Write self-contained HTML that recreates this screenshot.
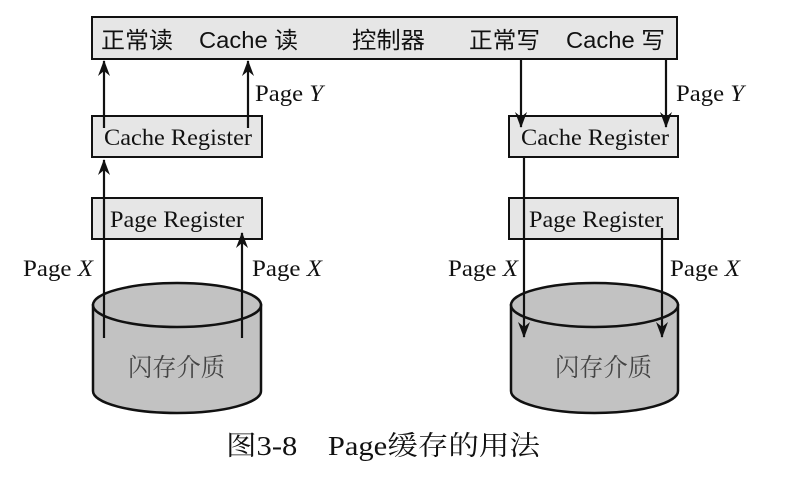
<!DOCTYPE html>
<html><head><meta charset="utf-8"><style>
html,body{margin:0;padding:0;background:#fff;}
svg{display:block;}
.s{font-family:"Liberation Serif","Noto Serif CJK SC",serif;font-size:23px;fill:#111;}
.h{font-family:"Liberation Sans","Noto Sans CJK SC",sans-serif;font-size:23px;fill:#111;}
.c{font-family:"Liberation Serif","Noto Serif CJK SC",serif;font-size:25px;fill:#444;}
</style></head><body>
<svg width="791" height="477" viewBox="0 0 791 477" xmlns="http://www.w3.org/2000/svg">
<defs>
<marker id="a" markerWidth="16" markerHeight="12" refX="15" refY="6" orient="auto" markerUnits="userSpaceOnUse" viewBox="0 0 16 12">
<path d="M0,0 L16,6 L0,12 L5,6 z" fill="#111"/></marker>
</defs>
<g stroke="#111" stroke-width="2" fill="#e6e6e6">
<rect x="92" y="17" width="585" height="42"/>
<rect x="92" y="116" width="170" height="41"/>
<rect x="92" y="198" width="170" height="41"/>
<rect x="509" y="116" width="169" height="41"/>
<rect x="509" y="198" width="169" height="41"/>
</g>
<g stroke="#111" stroke-width="2.5" fill="#c2c2c2">
<path d="M93,305 L93,391 A84,22 0 0 0 261,391 L261,305 z"/>
<ellipse cx="177" cy="305" rx="84" ry="22"/>
<path d="M511,305 L511,391 A83.5,22 0 0 0 678,391 L678,305 z"/>
<ellipse cx="594.5" cy="305" rx="83.5" ry="22"/>
</g>
<text class="h" x="101" y="48" textLength="72" lengthAdjust="spacingAndGlyphs">正常读</text>
<text class="h" x="199" y="48" textLength="99" lengthAdjust="spacingAndGlyphs">Cache 读</text>
<text class="h" x="352" y="48" textLength="73" lengthAdjust="spacingAndGlyphs">控制器</text>
<text class="h" x="469" y="48" textLength="71" lengthAdjust="spacingAndGlyphs">正常写</text>
<text class="h" x="566" y="48" textLength="99" lengthAdjust="spacingAndGlyphs">Cache 写</text>
<text class="s" x="104" y="145" textLength="148" lengthAdjust="spacingAndGlyphs">Cache Register</text>
<text class="s" x="110" y="227" textLength="134" lengthAdjust="spacingAndGlyphs">Page Register</text>
<text class="s" x="521" y="145" textLength="148" lengthAdjust="spacingAndGlyphs">Cache Register</text>
<text class="s" x="529" y="227" textLength="134" lengthAdjust="spacingAndGlyphs">Page Register</text>
<text class="s" x="255" y="101" textLength="68" lengthAdjust="spacingAndGlyphs">Page <tspan font-style="italic">Y</tspan></text>
<text class="s" x="676" y="101" textLength="68" lengthAdjust="spacingAndGlyphs">Page <tspan font-style="italic">Y</tspan></text>
<text class="s" x="23" y="276" textLength="70" lengthAdjust="spacingAndGlyphs">Page <tspan font-style="italic">X</tspan></text>
<text class="s" x="252" y="276" textLength="70" lengthAdjust="spacingAndGlyphs">Page <tspan font-style="italic">X</tspan></text>
<text class="s" x="448" y="276" textLength="70" lengthAdjust="spacingAndGlyphs">Page <tspan font-style="italic">X</tspan></text>
<text class="s" x="670" y="276" textLength="70" lengthAdjust="spacingAndGlyphs">Page <tspan font-style="italic">X</tspan></text>
<text class="c" x="128" y="376" textLength="97" lengthAdjust="spacingAndGlyphs">闪存介质</text>
<text class="c" x="555" y="376" textLength="97" lengthAdjust="spacingAndGlyphs">闪存介质</text>
<g stroke="#111" stroke-width="2.2" fill="none" marker-end="url(#a)">
<line x1="104" y1="338" x2="104" y2="160"/>
<line x1="104" y1="128" x2="104" y2="61"/>
<line x1="248" y1="128" x2="248" y2="61"/>
<line x1="242" y1="338" x2="242" y2="233"/>
<line x1="521" y1="59" x2="521" y2="127"/>
<line x1="666" y1="59" x2="666" y2="127"/>
<line x1="524" y1="157" x2="524" y2="337"/>
<line x1="662" y1="228" x2="662" y2="337"/>
</g>
<text x="226" y="455" textLength="314" lengthAdjust="spacingAndGlyphs" style="font-family:'Liberation Serif','Noto Serif CJK SC',serif;font-size:27px;fill:#111;">图3-8　Page缓存的用法</text>
</svg>
</body></html>
